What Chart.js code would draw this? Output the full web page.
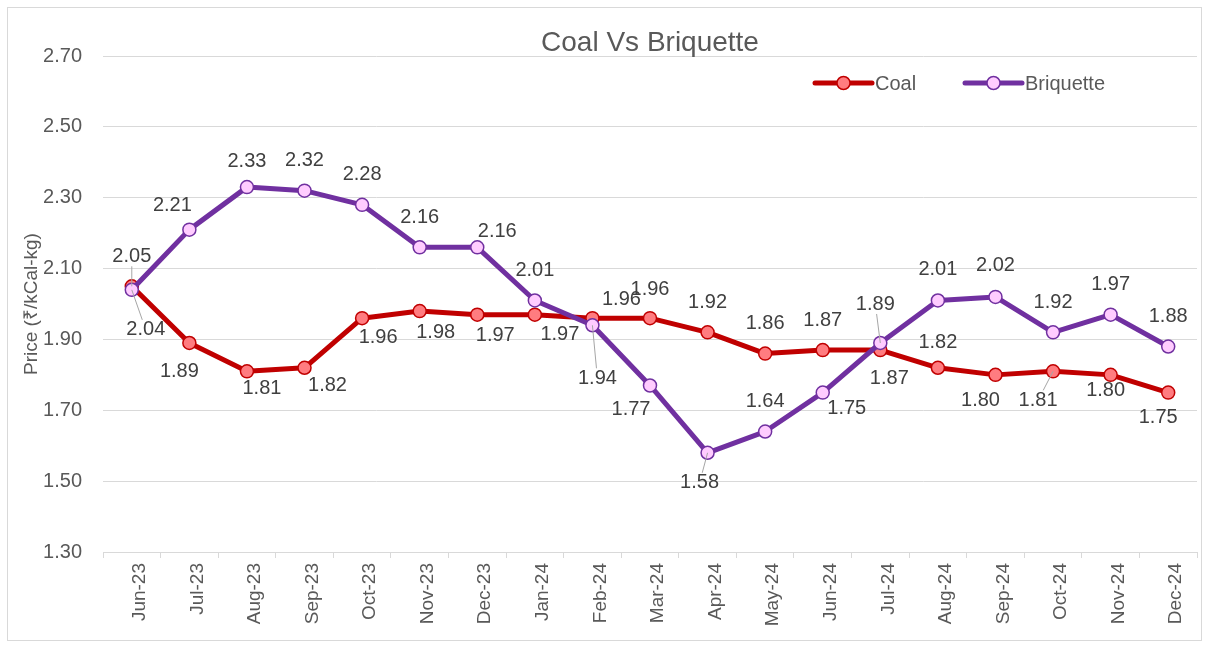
<!DOCTYPE html>
<html><head><meta charset="utf-8">
<script src="https://cdn.jsdelivr.net/npm/chart.js@4.4.1/dist/chart.umd.min.js"></script>
<style>html,body{margin:0;padding:0;background:#fff;overflow:hidden}canvas{display:block}</style>
</head><body>
<canvas id="c" width="1209" height="646"></canvas>
<script>
// ---- data ----
const months = ['Jun-23','Jul-23','Aug-23','Sep-23','Oct-23','Nov-23','Dec-23','Jan-24','Feb-24','Mar-24','Apr-24','May-24','Jun-24','Jul-24','Aug-24','Sep-24','Oct-24','Nov-24','Dec-24'];
const coal      = [2.05,1.89,1.81,1.82,1.96,1.98,1.97,1.97,1.96,1.96,1.92,1.86,1.87,1.87,1.82,1.80,1.81,1.80,1.75];
const briquette = [2.04,2.21,2.33,2.32,2.28,2.16,2.16,2.01,1.94,1.77,1.58,1.64,1.75,1.89,2.01,2.02,1.92,1.97,1.88];
const yTickValues = [1.30,1.50,1.70,1.90,2.10,2.30,2.50,2.70];
const chartTitle = 'Coal Vs Briquette';
const yAxisTitle = 'Price (₹/kCal-kg)';

// ---- label placement (style) ----
const coalLabelOffsets = [[0,-30],[-10,28],[15,17],[23,18],[16,19],[16,21],[18,21],[25,20],[29,-19],[0,-29],[0,-30],[0,-30],[0,-30],[9,28],[0,-25],[-15,26],[-15,29],[-5,16],[-10,25]];
const coalLeaders = [1,0,0,0,0,0,0,0,0,0,0,0,0,0,0,0,1,0,0];
const briqLabelOffsets = [[14,40],[-17,-24],[0,-26],[0,-30],[0,-30],[0,-30],[20,-16],[0,-30],[5,53],[-19,24],[-8,30],[0,-30],[24,16],[-5,-39],[0,-31],[0,-31],[0,-30],[0,-30],[0,-30]];
const briqLeaders = [1,0,0,0,0,0,0,0,1,0,1,0,0,1,0,0,0,0,0];

const FONT = "'Liberation Sans', Arial, sans-serif";
const AXIS_TEXT = '#595959';

const frame = {
  id: 'frame',
  beforeDraw(chart) {
    const ctx = chart.ctx;
    ctx.save();
    ctx.fillStyle = '#fff';
    ctx.fillRect(0, 0, chart.width, chart.height);
    ctx.strokeStyle = '#d9d9d9';
    ctx.lineWidth = 1;
    ctx.strokeRect(7.5, 7.5, 1194, 633);
    ctx.restore();
  }
};

const dataLabels = {
  id: 'dataLabels',
  afterDatasetsDraw(chart, args, opts) {
    const ctx = chart.ctx;
    ctx.save();
    ctx.font = opts.size + 'px ' + FONT;
    ctx.textAlign = 'center';
    ctx.textBaseline = 'middle';
    chart.data.datasets.forEach((ds, di) => {
      const meta = chart.getDatasetMeta(di);
      const pl = opts.placement[di];
      meta.data.forEach((pt, i) => {
        const [dx, dy] = pl.offsets[i];
        const lx = pt.x + dx, ly = pt.y + dy;
        const text = ds.data[i].toFixed(2);
        if (pl.leaders[i]) {
          const w = ctx.measureText(text).width;
          const h = opts.size * 0.8;
          const ddx = pt.x - lx, ddy = pt.y - ly;
          const tx = ddx === 0 ? Infinity : (w / 2 + 2) / Math.abs(ddx);
          const ty = ddy === 0 ? Infinity : (h / 2 + 2) / Math.abs(ddy);
          const t = Math.min(tx, ty);
          ctx.strokeStyle = '#a6a6a6';
          ctx.lineWidth = 1;
          ctx.beginPath();
          ctx.moveTo(lx + t * ddx, ly + t * ddy);
          ctx.lineTo(pt.x, pt.y);
          ctx.stroke();
        }
        ctx.fillStyle = opts.color;
        ctx.fillText(text, lx, ly);
      });
    });
    ctx.restore();
  }
};

const lineLegend = {
  id: 'lineLegend',
  afterDraw(chart, args, opts) {
    const ctx = chart.ctx;
    ctx.save();
    ctx.font = opts.size + 'px ' + FONT;
    ctx.textBaseline = 'middle';
    ctx.textAlign = 'left';
    chart.data.datasets.forEach((ds, k) => {
      const x = opts.x[k], y = opts.y;
      ctx.strokeStyle = ds.borderColor;
      ctx.lineWidth = ds.borderWidth;
      ctx.lineCap = 'round';
      ctx.beginPath();
      ctx.moveTo(x, y);
      ctx.lineTo(x + opts.lineLength, y);
      ctx.stroke();
      ctx.beginPath();
      ctx.arc(x + opts.lineLength / 2, y, ds.pointRadius, 0, Math.PI * 2);
      ctx.fillStyle = ds.pointBackgroundColor;
      ctx.fill();
      ctx.lineWidth = ds.pointBorderWidth;
      ctx.strokeStyle = ds.pointBorderColor;
      ctx.stroke();
      ctx.fillStyle = AXIS_TEXT;
      ctx.fillText(ds.label, x + opts.lineLength + 3, y + 1);
    });
    ctx.restore();
  }
};

new Chart(document.getElementById('c'), {
  type: 'line',
  data: {
    labels: months,
    datasets: [
      {
        label: 'Coal', data: coal, order: 1,
        borderColor: '#C00000', borderWidth: 5,
        pointRadius: 6.5, pointHoverRadius: 6.5,
        pointBackgroundColor: '#FF7C80', pointBorderColor: '#C00000', pointBorderWidth: 1.5,
        borderJoinStyle: 'round', tension: 0
      },
      {
        label: 'Briquette', data: briquette, order: 0,
        borderColor: '#7030A0', borderWidth: 5,
        pointRadius: 6.5, pointHoverRadius: 6.5,
        pointBackgroundColor: '#FFCCFF', pointBorderColor: '#7030A0', pointBorderWidth: 1.5,
        borderJoinStyle: 'round', tension: 0
      }
    ]
  },
  options: {
    responsive: false,
    animation: false,
    devicePixelRatio: 1,
    layout: { padding: { left: 0, right: 12, top: 0, bottom: 0 } },
    plugins: {
      legend: { display: false },
      tooltip: { enabled: false },
      title: {
        display: true, text: chartTitle, fullSize: false,
        color: AXIS_TEXT,
        font: { family: FONT, size: 28, weight: 'normal', lineHeight: 0.93 },
        padding: { top: 30, bottom: 0 }
      },
      dataLabels: {
        size: 20, color: '#404040',
        placement: [
          { offsets: coalLabelOffsets, leaders: coalLeaders },
          { offsets: briqLabelOffsets, leaders: briqLeaders }
        ]
      },
      lineLegend: { x: [815, 965], y: 83, lineLength: 57, size: 20 }
    },
    scales: {
      x: {
        type: 'category',
        offset: true,
        grid: { display: true, drawOnChartArea: false, drawTicks: true, tickLength: 6, color: '#d9d9d9', offset: true },
        border: { display: true, color: '#d9d9d9', width: 1 },
        ticks: {
          autoSkip: false, minRotation: 90, maxRotation: 90, padding: 5, labelOffset: 8,
          color: AXIS_TEXT, font: { family: FONT, size: 19 }
        },
        afterFit(scale) { scale.height = 94; }
      },
      y: {
        min: 1.3, max: 2.7,
        afterBuildTicks(scale) { scale.ticks = yTickValues.map(v => ({ value: v })); },
        grid: { color: '#d9d9d9', lineWidth: 1, drawTicks: false },
        border: { display: false },
        ticks: {
          padding: 21, color: AXIS_TEXT, font: { family: FONT, size: 20 },
          callback: v => Number(v).toFixed(2)
        },
        title: {
          display: true, text: yAxisTitle, color: AXIS_TEXT,
          font: { family: FONT, size: 19, weight: 'normal' },
          padding: { top: 20, bottom: 0 }
        },
        afterFit(scale) { scale.width = 103; }
      }
    }
  },
  plugins: [frame, dataLabels, lineLegend]
});
</script>
</body></html>
